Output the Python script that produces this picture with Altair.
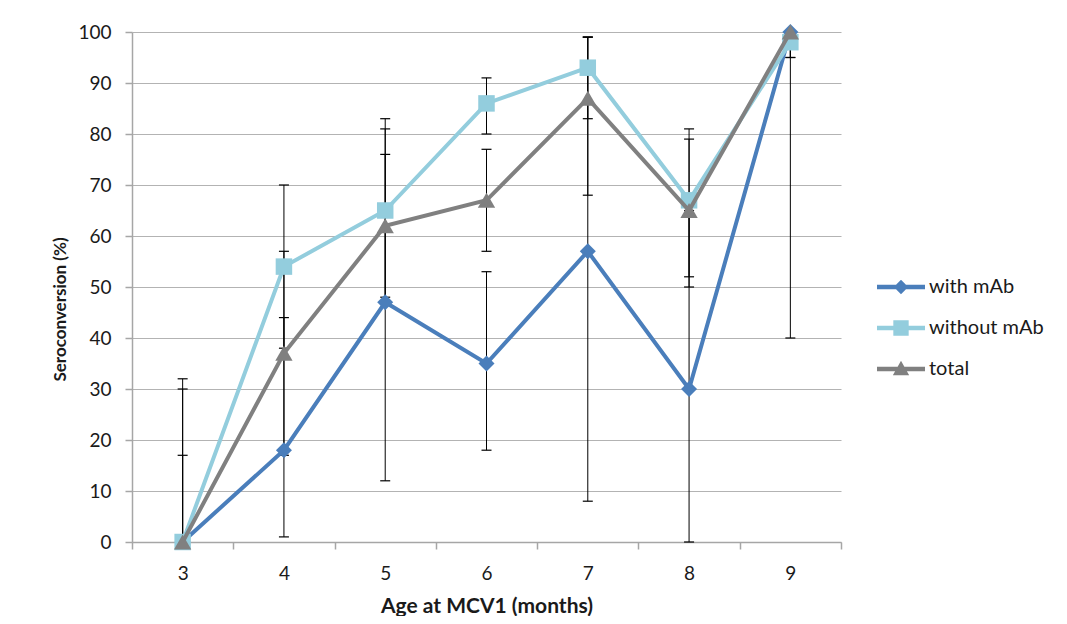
import altair as alt
import pandas as pd

ages = [3, 4, 5, 6, 7, 8, 9]
series_names = ["with mAb", "without mAb", "total"]

with_mab = [0, 18, 47, 35, 57, 30, 100]
without_mab = [0, 54, 65, 86, 93, 67, 98]
total = [0, 37, 62, 67, 87, 65, 100]

with_lo = [0, 1, 12, 18, 8, 0, 40]
with_hi = [30, 44, 81, 53, 99, 65, 100]
without_lo = [0, 38, 47, 80, 83, 52, 95]
without_hi = [32, 70, 83, 91, 99, 81, 100]
total_lo = [0, 17, 48, 57, 68, 50, 95]
total_hi = [17, 57, 76, 77, 99, 79, 100]

colors = ["#4a7ebb", "#93cddd", "#808080"]
shapes = ["diamond", "square", "triangle-up"]
sizes = [256, 272, 300]

# legend symbols: line + marker, in unit box [-1, 1]
bar = "M-1,-0.09L1,-0.09L1,0.09L-1,0.09Z"
legend_paths = [
    bar + "M0,-0.3L0.3,0L0,0.3L-0.3,0Z",
    bar + "M-0.32,-0.32L0.32,-0.32L0.32,0.32L-0.32,0.32Z",
    bar + "M0,-0.34L0.34,0.26L-0.34,0.26Z",
]

rows = []
for name, vals, lo, hi in zip(
    series_names,
    [with_mab, without_mab, total],
    [with_lo, without_lo, total_lo],
    [with_hi, without_hi, total_hi],
):
    for a, v, l, h in zip(ages, vals, lo, hi):
        rows.append({"age": a, "series": name, "value": v, "lo": l, "hi": h})
df = pd.DataFrame(rows)

FONT = "Lato"
TXT = "#1a1a1a"

x_enc = alt.X(
    "age:O",
    scale=alt.Scale(type="band", paddingInner=0, paddingOuter=0),
    axis=alt.Axis(
        title="Age at MCV1 (months)",
        labelAngle=0,
        tickBand="extent",
        grid=False,
        tickSize=7,
        labelPadding=15,
        titlePadding=12,
        titleFontSize=21,
    ),
)
y_scale = alt.Scale(domain=[0, 100], nice=False)
y_axis = alt.Axis(
    title="Seroconversion (%)",
    values=list(range(0, 101, 10)),
    tickSize=7,
    labelPadding=14,
    titlePadding=8,
    titleFontSize=17,
    titleY=277,
    grid=True,
)

base = alt.Chart(df)

err_rule = base.mark_rule(color="black", strokeWidth=1).encode(
    x=x_enc, y=alt.Y("lo:Q", scale=y_scale, axis=y_axis), y2="hi:Q"
)
cap_lo = base.mark_point(shape="stroke", size=100, color="black", strokeWidth=1.2, opacity=1).encode(
    x=x_enc, y=alt.Y("lo:Q", scale=y_scale, axis=y_axis)
)
cap_hi = base.mark_point(shape="stroke", size=100, color="black", strokeWidth=1.2, opacity=1).encode(
    x=x_enc, y=alt.Y("hi:Q", scale=y_scale, axis=y_axis)
)

layers = [err_rule, cap_lo, cap_hi]
for name, col, shp, sz in zip(series_names, colors, shapes, sizes):
    sub = base.transform_filter(alt.datum.series == name)
    layers.append(
        sub.mark_line(color=col, strokeWidth=4).encode(
            x=x_enc, y=alt.Y("value:Q", scale=y_scale, axis=y_axis)
        )
    )
    layers.append(
        sub.mark_point(shape=shp, size=sz, filled=True, color=col, opacity=1).encode(
            x=x_enc, y=alt.Y("value:Q", scale=y_scale, axis=y_axis)
        )
    )

legend_layer = base.mark_point(filled=True, opacity=0).encode(
    x=x_enc,
    y=alt.Y("value:Q", scale=y_scale, axis=y_axis),
    color=alt.Color(
        "series:N",
        scale=alt.Scale(domain=series_names, range=colors),
        legend=alt.Legend(title=None),
    ),
    shape=alt.Shape(
        "series:N",
        scale=alt.Scale(domain=series_names, range=legend_paths),
        legend=alt.Legend(title=None),
    ),
)
layers.append(legend_layer)

chart = (
    alt.layer(*layers)
    .properties(
        width=709,
        height=510,
        padding={"left": 124, "top": 24, "right": 214, "bottom": 74},
        autosize=alt.AutoSizeParams(type="none"),
    )
    .configure_view(stroke=None)
    .configure_axis(
        labelFont=FONT,
        titleFont=FONT,
        labelFontSize=19,
        titleFontWeight="bold",
        labelColor=TXT,
        titleColor=TXT,
        gridColor="#b3b3b3",
        gridWidth=1,
        domainColor="#a6a6a6",
        domainWidth=1.5,
        tickColor="#a6a6a6",
        tickWidth=1.5,
    )
    .configure_legend(
        orient="none",
        legendX=745,
        legendY=231,
        labelFont=FONT,
        labelFontSize=20,
        labelColor=TXT,
        symbolSize=2304,
        symbolOpacity=1,
        symbolStrokeWidth=0,
        labelOffset=4,
        rowPadding=7,
    )
)

chart.save("out.html", embed_options={"renderer": "svg", "actions": False})
